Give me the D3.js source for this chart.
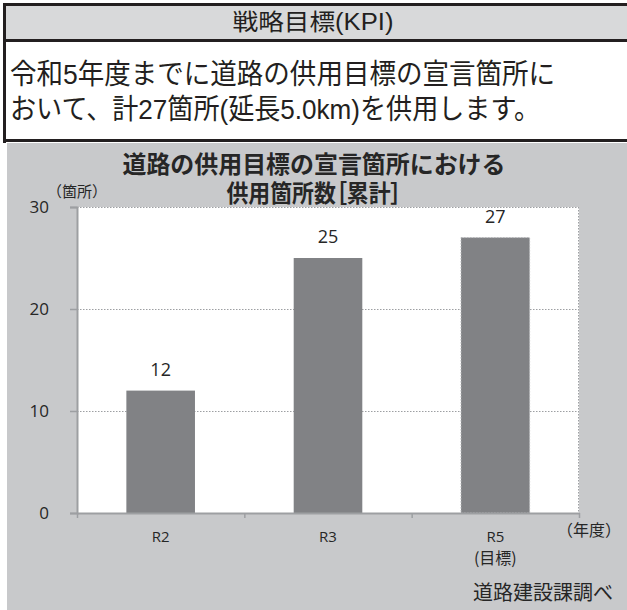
<!DOCTYPE html>
<html lang="ja">
<head>
<meta charset="utf-8">
<script src="https://cdn.jsdelivr.net/npm/d3@7"></script>
<style>
  html, body { margin: 0; padding: 0; background: #ffffff; }
  svg { display: block; }
  text { font-family: "Noto Sans CJK JP", "Noto Sans", sans-serif; }
  .num { font-family: "Open Sans", "Noto Sans", sans-serif; }
  .narrow { font-family: "Liberation Sans Narrow", "Liberation Sans", "Noto Sans CJK JP", sans-serif; }
  .tight { font-family: "Liberation Sans", "Noto Sans CJK JP", sans-serif; }
</style>
</head>
<body>
<svg id="chart" width="627" height="610" lang="ja"></svg>
<script>
// KPI panel text
const kpiHeading = "戦略目標(KPI)";
const kpiLines = [
  "令和5年度までに道路の供用目標の宣言箇所に",
  "おいて、計27箇所(延長5.0km)を供用します。"
];

// Chart content
const chartTitle = ["道路の供用目標の宣言箇所における", "供用箇所数［累計］"];
const categories = ["R2", "R3", "R5"];
const categorySubLabels = ["", "", "(目標)"];
const values = [12, 25, 27];
const isTarget = [false, false, true];
const yTicks = [0, 10, 20, 30];
const yUnit = "（箇所）";
const xUnit = "（年度）";
const source = "道路建設課調べ";

const svg = d3.select("#chart");
const W = 627, H = 610;

// ---- KPI box ----
const ink = "#231f20";
svg.append("rect").attr("x", 0).attr("y", 0).attr("width", W).attr("height", 143).attr("fill", "#ffffff");
svg.append("rect")
  .attr("x", 5.5).attr("y", 5).attr("width", 622).attr("height", 35)
  .attr("fill", "#d8d9da");
// box outline
svg.append("path")
  .attr("d", "M4.5,143 V4.5 H627 M4.5,140.5 H627 M4.5,40.5 H627")
  .attr("fill", "none").attr("stroke", ink).attr("stroke-width", 3);

svg.append("text")
  .attr("class", "narrow")
  .attr("x", 313).attr("y", 30)
  .attr("text-anchor", "middle")
  .attr("font-size", 23)
  .attr("fill", ink)
  .attr("textLength", 161).attr("lengthAdjust", "spacingAndGlyphs")
  .text(kpiHeading);

const lineLens = [545, 530];
kpiLines.forEach((t, i) => {
  svg.append("text")
    .attr("class", "narrow")
    .attr("x", 10)
    .attr("y", 84 + i * 35)
    .attr("font-size", 28)
    .attr("fill", ink)
    .attr("textLength", lineLens[i])
    .attr("lengthAdjust", "spacingAndGlyphs")
    .text(t);
});

// ---- Chart panel ----
svg.append("rect")
  .attr("x", 7).attr("y", 143).attr("width", W - 7).attr("height", H - 143)
  .attr("fill", "#c8c9cb");

const plot = { left: 77, right: 579, top: 207, bottom: 513 };

const x = d3.scaleBand()
  .domain(categories)
  .range([plot.left, plot.right])
  .paddingInner(0.59)
  .paddingOuter(0.295);

const y = d3.scaleLinear()
  .domain([0, 30])
  .range([plot.bottom, plot.top]);

// plot background
svg.append("rect")
  .attr("x", plot.left).attr("y", plot.top)
  .attr("width", plot.right - plot.left).attr("height", plot.bottom - plot.top)
  .attr("fill", "#ffffff");

const gridColor = "#9d9fa2";
// dotted gridlines (10, 20, 30) and right frame
svg.append("g").selectAll("line")
  .data(yTicks.filter(d => d > 0))
  .join("line")
  .attr("x1", plot.left).attr("x2", plot.right)
  .attr("y1", d => y(d) + 0.5).attr("y2", d => y(d) + 0.5)
  .attr("stroke", gridColor).attr("stroke-width", 1)
  .attr("stroke-dasharray", "1.5,1.5");
svg.append("line")
  .attr("x1", plot.right - 0.5).attr("x2", plot.right - 0.5)
  .attr("y1", plot.top).attr("y2", plot.bottom)
  .attr("stroke", gridColor).attr("stroke-width", 1)
  .attr("stroke-dasharray", "1.5,1.5");

// bars
const barColor = "#818285";
svg.append("g").selectAll("rect")
  .data(values)
  .join("rect")
  .attr("x", (d, i) => x(categories[i]))
  .attr("y", d => y(d))
  .attr("width", x.bandwidth())
  .attr("height", d => y(0) - y(d))
  .attr("fill", barColor)
  .attr("stroke", (d, i) => isTarget[i] ? "#b4b5b8" : "none")
  .attr("stroke-width", 1)
  .attr("stroke-dasharray", "1.5,1.5");

// value labels
svg.append("g").selectAll("text")
  .data(values)
  .join("text")
  .attr("class", "num")
  .attr("x", (d, i) => x(categories[i]) + x.bandwidth() / 2)
  .attr("y", d => y(d) - 15)
  .attr("text-anchor", "middle")
  .attr("font-size", 18)
  .attr("fill", "#262626")
  .text(d => d);

// y axis
const axisColor = "#9d9fa2";
const yAxis = d3.axisLeft(y).tickValues(yTicks).tickSize(7).tickPadding(21).tickFormat(d3.format("d"));
const gy = svg.append("g").attr("transform", `translate(${plot.left},0)`).call(yAxis);
gy.select(".domain").attr("stroke", axisColor).attr("stroke-width", 2);
gy.selectAll(".tick line").attr("stroke", axisColor).attr("stroke-width", 1.5);
gy.selectAll(".tick text")
  .attr("class", "num")
  .attr("font-size", 17)
  .attr("fill", "#262626");

// x axis with ticks at category boundaries
const step = x.step();
const bounds = d3.range(categories.length + 1).map(i => plot.left + i * step);
const xb = d3.scaleLinear().domain([plot.left, plot.right]).range([plot.left, plot.right]);
const xAxis = d3.axisBottom(xb).tickValues(bounds).tickSize(5).tickSizeOuter(0).tickFormat("");
const gx = svg.append("g").attr("transform", `translate(0,${plot.bottom})`).call(xAxis);
gx.select(".domain").attr("stroke", axisColor).attr("stroke-width", 2);
gx.selectAll(".tick line").attr("stroke", axisColor).attr("stroke-width", 1.5);

// category labels
categories.forEach((c, i) => {
  const cx = x(c) + x.bandwidth() / 2;
  svg.append("text")
    .attr("class", "num")
    .attr("x", cx).attr("y", 542)
    .attr("text-anchor", "middle")
    .attr("font-size", 15)
    .attr("fill", "#262626")
    .text(c);
  if (categorySubLabels[i]) {
    svg.append("text")
      .attr("x", cx).attr("y", 564)
      .attr("text-anchor", "middle")
      .attr("font-size", 16)
      .attr("fill", "#262626")
      .text(categorySubLabels[i]);
  }
});

// units
svg.append("text")
  .attr("x", 47).attr("y", 197)
  .attr("font-size", 15)
  .attr("fill", "#262626")
  .text(yUnit);
svg.append("text")
  .attr("x", 557).attr("y", 536)
  .attr("font-size", 16)
  .attr("fill", "#262626")
  .text(xUnit);

// chart title
const titleLens = [383, 175];
chartTitle.forEach((t, i) => {
  svg.append("text")
    .attr("class", "tight")
    .attr("x", 314)
    .attr("y", 173 + i * 29)
    .attr("text-anchor", "middle")
    .attr("font-size", 24)
    .attr("font-weight", 700)
    .attr("fill", "#262626")
    .style("font-feature-settings", i === 1 ? "'palt'" : null)
    .attr("textLength", titleLens[i])
    .attr("lengthAdjust", "spacingAndGlyphs")
    .text(t);
});

// source note
svg.append("text")
  .attr("x", 613).attr("y", 600)
  .attr("text-anchor", "end")
  .attr("font-size", 20)
  .attr("fill", "#262626")
  .text(source);
</script>
</body>
</html>
